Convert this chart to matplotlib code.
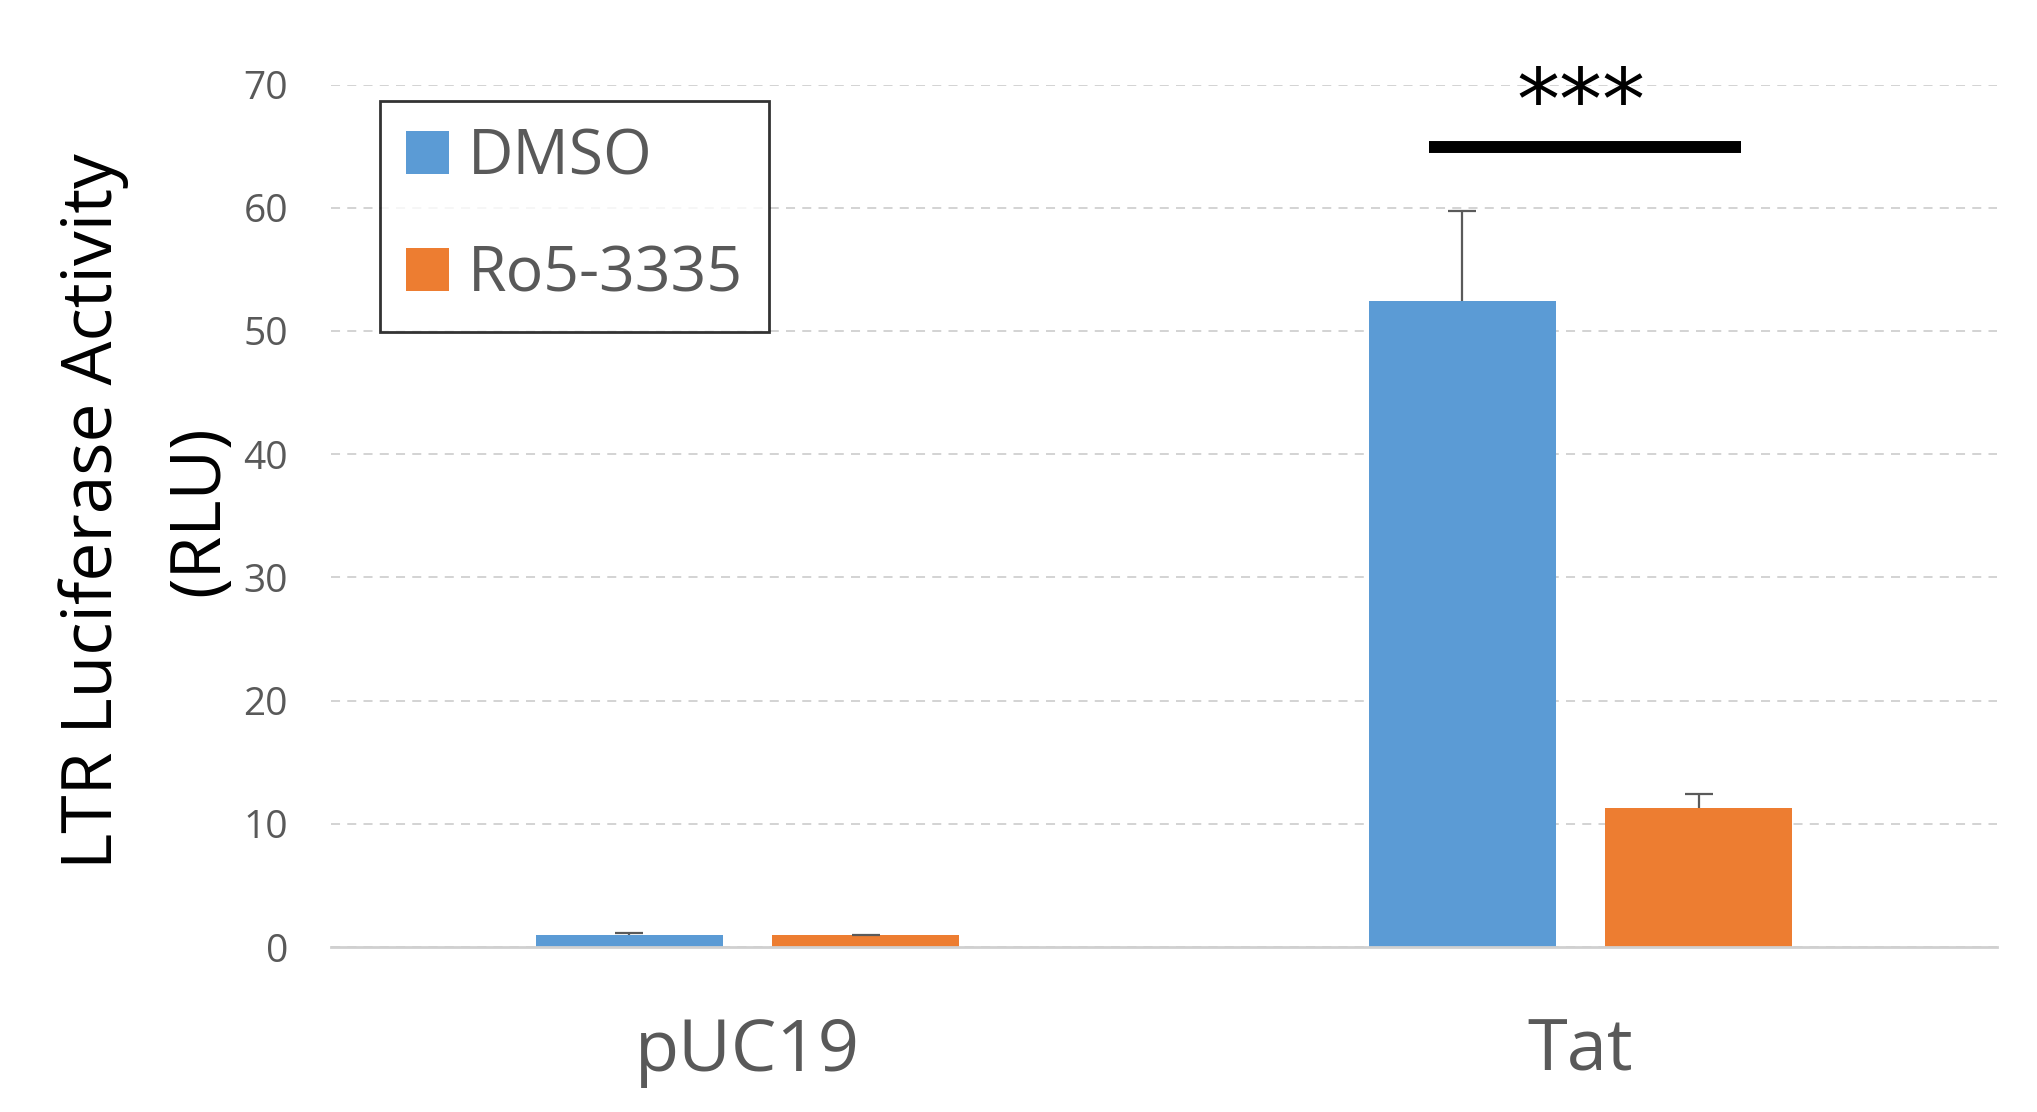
import matplotlib
matplotlib.use("Agg")
import matplotlib.pyplot as plt
from matplotlib.patches import Patch
import numpy as np

categories = ["pUC19", "Tat"]
series_names = ["DMSO", "Ro5-3335"]
dmso_values = [1.0, 52.4]
dmso_err = [0.15, 7.3]
ro5_values = [0.95, 11.3]
ro5_err = [0.05, 1.1]
y_ticks = [0, 10, 20, 30, 40, 50, 60, 70]
sig_text = "***"
sig_level = 64.9

BLUE = "#5B9BD5"
ORANGE = "#ED7D31"
GRAY_TXT = "#595959"

W, H = 2037, 1112
fig = plt.figure(figsize=(W / 100, H / 100), dpi=100)
ax = fig.add_axes([331 / W, 1 - 947 / H, (1997 - 331) / W, (947 - 84.5) / H])

x = np.arange(len(categories))
bw = 0.2245
off = 0.142
err_kw = dict(ecolor="#5a5a5a", elinewidth=1.6, capsize=10, capthick=1.6)
c1 = ax.bar(x - off, dmso_values, bw, color=BLUE, label=series_names[0], zorder=3,
            yerr=[np.zeros(len(dmso_err)), dmso_err], error_kw=err_kw)
c2 = ax.bar(x + off, ro5_values, bw, color=ORANGE, label=series_names[1], zorder=3,
            yerr=[np.zeros(len(ro5_err)), ro5_err], error_kw=err_kw)
for c in (c1, c2):
    caps = c.errorbar.lines[1]
    if len(caps) == 2:
        caps[0].set_visible(False)

ax.set_xlim(-0.5, 1.5)
ax.set_ylim(0, 70)
ax.set_yticks(y_ticks)
ax.set_xticks(x)
ax.set_xticklabels(categories, fontfamily="Open Sans", fontsize=52, color=GRAY_TXT)
for lab in ax.get_yticklabels():
    lab.set_fontfamily("Open Sans")
    lab.set_fontsize(28)
    lab.set_color(GRAY_TXT)
ax.tick_params(axis="y", length=0, pad=31)
ax.tick_params(axis="x", length=0, pad=50)

ax.grid(axis="y", color="#d0d0d0", linestyle=(0, (5, 4)), linewidth=1.3, zorder=0)
ax.set_axisbelow(True)
for s in ["top", "right", "left"]:
    ax.spines[s].set_visible(False)
ax.spines["bottom"].set_color("#d0d0d0")
ax.spines["bottom"].set_linewidth(2)
ax.spines["bottom"].set_zorder(4)

# significance bar
ax.plot([0.818, 1.193], [sig_level, sig_level], color="black", linewidth=8.6,
        solid_capstyle="butt", zorder=5, clip_on=False)
ax.text(x[1], 68.2, sig_text, ha="center", va="center", fontsize=62,
        fontfamily="DejaVu Sans", color="black", clip_on=False)

# y label
fig.text(147 / W, 1 - 511 / H, "LTR Luciferase Activity\n(RLU)", rotation=90,
         ha="center", va="center", multialignment="center",
         fontfamily="Open Sans", fontsize=50, color="black", linespacing=1.69)

# legend
handles = [Patch(facecolor=BLUE, edgecolor="none"), Patch(facecolor=ORANGE, edgecolor="none")]
leg = fig.legend(handles, series_names, loc="upper left",
                 bbox_to_anchor=(380 / W, 1 - 101 / H),
                 prop={"family": "Open Sans", "size": 45},
                 frameon=True, fancybox=False, edgecolor="black",
                 handlelength=0.68, handleheight=0.68, handletextpad=0.3,
                 labelspacing=0.86, borderpad=0.42, borderaxespad=0)
leg.get_frame().set_linewidth(2)
for t in leg.get_texts():
    t.set_color(GRAY_TXT)

fig.savefig("out.png", dpi=100)
